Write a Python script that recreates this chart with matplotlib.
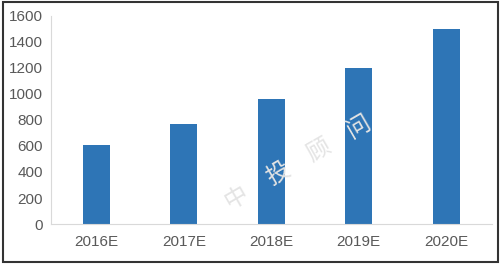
import math
import matplotlib.pyplot as plt
from matplotlib.patches import Rectangle

years = ["2016E", "2017E", "2018E", "2019E", "2020E"]
values = [610, 770, 960, 1200, 1500]
yticks = [0, 200, 400, 600, 800, 1000, 1200, 1400, 1600]
watermark = ["中", "投", "顾", "问"]

plt.rcParams['font.family'] = ['Liberation Sans', 'Noto Sans CJK SC', 'DejaVu Sans']

fig = plt.figure(figsize=(5, 2.64), dpi=100)
ax = fig.add_axes([0.102, 0.1515, 0.881, 0.788])

xs = range(len(years))
ax.bar(xs, values, width=0.31, color='#2E75B6', zorder=2)

ax.set_xlim(-0.52, len(years) - 1 + 0.52)
ax.set_ylim(0, 1600)
ax.set_yticks(yticks)
ax.set_xticks(list(xs))
ax.set_xticklabels(years)

for side in ['top', 'right']:
    ax.spines[side].set_visible(False)
ax.spines['left'].set_color('#d9d9d9')
ax.spines['bottom'].set_color('#d9d9d9')
ax.tick_params(axis='both', length=0, labelsize=11, colors='#595959')
ax.tick_params(axis='y', pad=6)
ax.tick_params(axis='x', pad=8)

# watermark, one char at a time along a slanted line
ang = 30
step = 47  # px between chars
cx, cy = 298, 264 - 162
for i, ch in enumerate(watermark):
    off = (i - 1.5) * step
    px = cx + off * math.cos(math.radians(ang))
    py = cy + off * math.sin(math.radians(ang))
    fig.text(px / 500, py / 264, ch, fontsize=17, color='#e4e4e4', rotation=ang,
             ha='center', va='center', fontweight='light',
             family=['Noto Sans CJK SC', 'DejaVu Sans'], zorder=3)

# outer frame
fig.patches.append(Rectangle((0.005, 0.008), 0.99, 0.984, transform=fig.transFigure,
                             fill=False, edgecolor='#333333', linewidth=1.5))

fig.savefig("out.png", dpi=100)
